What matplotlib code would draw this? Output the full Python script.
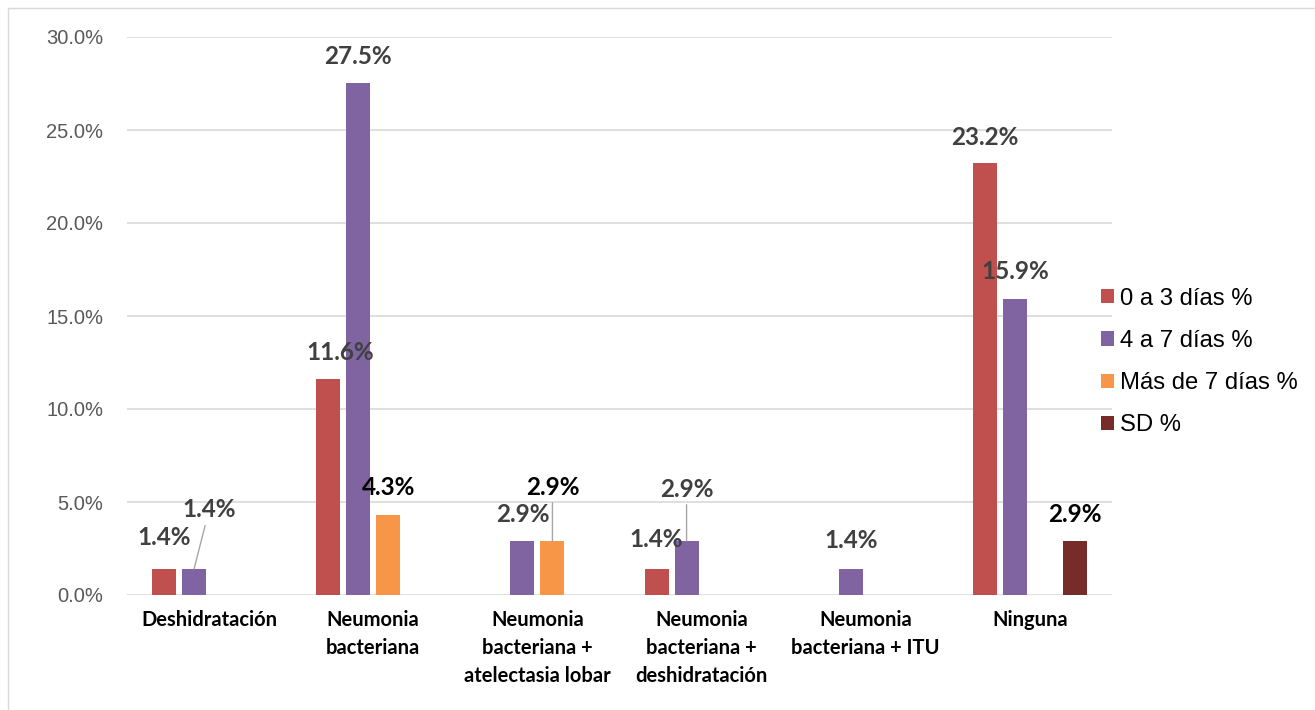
import numpy as np
import matplotlib.pyplot as plt
from matplotlib.patches import Rectangle

# complication categories and percentages per duration group
categories = ['Deshidratación', 'Neumonia\nbacteriana', 'Neumonia\nbacteriana +\natelectasia lobar',
              'Neumonia\nbacteriana +\ndeshidratación', 'Neumonia\nbacteriana + ITU', 'Ninguna']
series_names = ['0 a 3 días %', '4 a 7 días %', 'Más de 7 días %', 'SD %']
dias_0_3 = [1.4, 11.6, 0, 1.4, 0, 23.2]
dias_4_7 = [1.4, 27.5, 2.9, 2.9, 1.4, 15.9]
mas_de_7 = [0, 4.3, 2.9, 0, 0, 0]
sd = [0, 0, 0, 0, 0, 2.9]
colors = ['#C0504D', '#8064A2', '#F79646', '#772C2A']

# label offsets in pixels (dx, dy), text colour, leader line
# keyed by (series, category)
label_pos = {
    (0, 0): (0, 31, '#404040', False),
    (1, 0): (15, 59, '#404040', True),
    (0, 1): (12, 27, '#404040', False),
    (1, 1): (0, 27, '#404040', False),
    (2, 1): (0, 28, 'black', False),
    (1, 2): (0, 27, '#404040', False),
    (2, 2): (0, 54, 'black', True),
    (0, 3): (0, 29, '#404040', False),
    (1, 3): (0, 52, '#404040', True),
    (1, 4): (0, 28, '#404040', False),
    (0, 5): (0, 26, '#404040', False),
    (1, 5): (0, 28, '#404040', False),
    (3, 5): (0, 27, 'black', False),
}

fig = plt.figure(figsize=(13.15, 7.1), dpi=100)
ax = fig.add_axes([127/1315, 1 - 595/710, 985/1315, 558/710])

x = np.arange(len(categories))
pitch = 0.183
width = 0.146
data = [dias_0_3, dias_4_7, mas_de_7, sd]
for i, vals in enumerate(data):
    pos = x + (i - 1.5) * pitch
    vals = np.array(vals, dtype=float)
    ax.bar(pos, vals, width, color=colors[i], label=series_names[i], zorder=3)
    for j, v in enumerate(vals):
        if (i, j) not in label_pos:
            continue
        dx, dy, col, leader = label_pos[(i, j)]
        arrow = None
        if leader:
            arrow = dict(arrowstyle='-', color='#A6A6A6', lw=1, shrinkA=1, shrinkB=0)
        ax.annotate('%.1f%%' % v, xy=(pos[j], v), xytext=(dx, dy), textcoords='offset pixels',
                    ha='center', va='center', fontsize=17.5, fontweight='bold', color=col,
                    family='Lato', zorder=5, arrowprops=arrow)

ax.set_xlim(-0.5, len(categories) - 0.5)
ax.set_ylim(0, 30)
ax.set_yticks(np.arange(0, 31, 5))
ax.set_yticklabels(['%.1f%%' % t for t in np.arange(0, 31, 5)], fontsize=14.5,
                   color='#595959', family='Liberation Sans')
ax.set_xticks(x)
ax.set_xticklabels(categories, fontsize=14.5, fontweight='bold', family='Lato', linespacing=1.5,
                   va='top')
ax.tick_params(axis='both', length=0)
ax.tick_params(axis='y', pad=17)
ax.tick_params(axis='x', pad=11)
ax.grid(axis='y', color='#D9D9D9', lw=1.2, zorder=0)
for s in ax.spines.values():
    s.set_visible(False)

fig.legend(loc='center left', bbox_to_anchor=(1101/1315, 1 - 362/710), frameon=False,
           prop={'family': 'Liberation Sans', 'size': 17.2},
           handlelength=0.55, handleheight=0.55, handletextpad=0.25, labelspacing=0.85,
           borderpad=0, borderaxespad=0)

fig.patches.append(Rectangle((8/1315, -0.01), 1.0, 1 - 8/710 + 0.01, transform=fig.transFigure,
                             fill=False, edgecolor='#D9D9D9', lw=1))

fig.savefig('out.png', dpi=100)
